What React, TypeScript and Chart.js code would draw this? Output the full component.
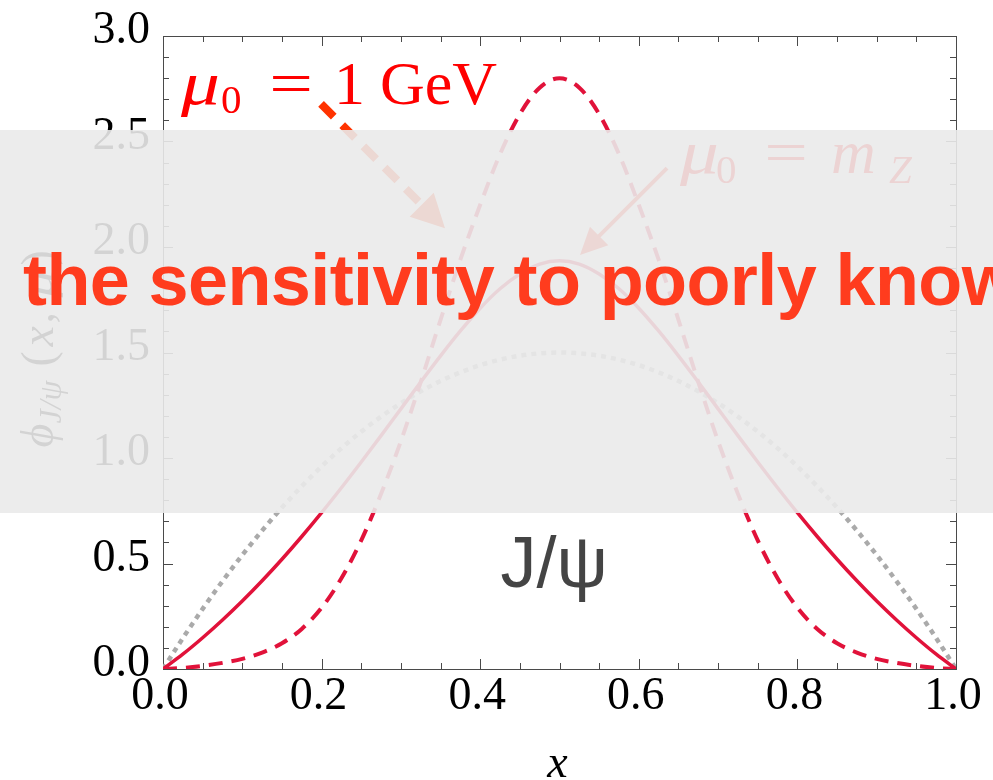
import React, { useEffect, useRef } from 'react';
import { Chart, registerables } from 'chart.js';

Chart.register(...registerables);

// ---- data ----
const xValues = [
  0, 0.025, 0.05, 0.075, 0.1, 0.125, 0.15, 0.175, 0.2, 0.225, 0.25, 0.275, 0.3, 0.325, 0.35, 0.375, 0.4,
  0.425, 0.45, 0.475, 0.5, 0.525, 0.55, 0.575, 0.6, 0.625, 0.65, 0.675, 0.7, 0.725, 0.75, 0.775, 0.8,
  0.825, 0.85, 0.875, 0.9, 0.925, 0.95, 0.975, 1,
];

// grey dotted curve (asymptotic)
const asymptoticValues = [
  0, 0.146, 0.285, 0.416, 0.54, 0.656, 0.765, 0.866, 0.96, 1.046, 1.125, 1.196, 1.26, 1.316, 1.365, 1.406,
  1.44, 1.466, 1.485, 1.496, 1.5, 1.496, 1.485, 1.466, 1.44, 1.406, 1.365, 1.316, 1.26, 1.196, 1.125, 1.046,
  0.96, 0.866, 0.765, 0.656, 0.54, 0.416, 0.285, 0.146, 0,
];

// solid red curve (mu0 = mZ)
const mzValues = [
  0, 0.07, 0.148, 0.232, 0.322, 0.418, 0.52, 0.628, 0.741, 0.859, 0.981, 1.106, 1.233, 1.36, 1.484, 1.602,
  1.71, 1.802, 1.872, 1.919, 1.935, 1.919, 1.872, 1.802, 1.71, 1.602, 1.484, 1.36, 1.233, 1.106, 0.981,
  0.859, 0.741, 0.628, 0.52, 0.418, 0.322, 0.232, 0.148, 0.07, 0,
];

// dashed red curve (mu0 = 1 GeV)
const oneGeVValues = [
  0, 0.005, 0.015, 0.029, 0.048, 0.078, 0.122, 0.19, 0.29, 0.43, 0.61, 0.83, 1.08, 1.36, 1.655, 1.94, 2.2,
  2.44, 2.63, 2.755, 2.8, 2.755, 2.63, 2.44, 2.2, 1.94, 1.655, 1.36, 1.08, 0.83, 0.61, 0.43, 0.29, 0.19,
  0.122, 0.078, 0.048, 0.029, 0.015, 0.005, 0,
];

const xTickValues = [0, 0.2, 0.4, 0.6, 0.8, 1.0];
const yTickValues = [0, 0.5, 1.0, 1.5, 2.0, 2.5, 3.0];

const bandText = 'the sensitivity to poorly known';

// annotation anchors (data coordinates)
const arrow1GeV = { from: [0.1993, 2.678], to: [0.3556, 2.089] };
const arrowMz = { from: [0.6356, 2.374], to: [0.5259, 1.962] };
const label1GeVAnchor = [0.0252, 2.678];
const labelMzAnchor = [0.6545, 2.351];
const jpsiAnchor = [0.4255, 0.3865];

const RED = '#e1123a';
const SERIF = '"Liberation Serif", "Times New Roman", serif';
const SANS = '"Liberation Sans", Arial, sans-serif';

function drawArrow(
  ctx: CanvasRenderingContext2D,
  x1: number, y1: number, x2: number, y2: number,
  w: number, headLen: number, headHalf: number, color: string, dash: number[]
) {
  const dx = x2 - x1, dy = y2 - y1;
  const L = Math.hypot(dx, dy);
  const ux = dx / L, uy = dy / L;
  const bx = x2 - ux * headLen, by = y2 - uy * headLen;
  ctx.save();
  ctx.strokeStyle = color;
  ctx.fillStyle = color;
  ctx.lineWidth = w;
  ctx.lineCap = 'butt';
  ctx.setLineDash(dash);
  ctx.beginPath();
  ctx.moveTo(x1, y1);
  ctx.lineTo(bx + ux * 2, by + uy * 2);
  ctx.stroke();
  ctx.setLineDash([]);
  ctx.beginPath();
  ctx.moveTo(x2, y2);
  ctx.lineTo(bx - uy * headHalf, by + ux * headHalf);
  ctx.lineTo(bx + uy * headHalf, by - ux * headHalf);
  ctx.closePath();
  ctx.fill();
  ctx.restore();
}

function txt(
  ctx: CanvasRenderingContext2D, s: string, x: number, y: number, font: string,
  align: CanvasTextAlign = 'left', sx = 1
) {
  ctx.save();
  ctx.font = font;
  ctx.textAlign = align;
  ctx.translate(x, y);
  ctx.scale(sx, 1);
  ctx.fillText(s, 0, 0);
  ctx.restore();
}

const decorPlugin = {
  id: 'decor',
  beforeDatasetsDraw(chart: any) {
    const { ctx, chartArea: a, scales } = chart;
    const xs = scales.x, ys = scales.y;
    ctx.save();
    ctx.strokeStyle = '#4a4a4a';
    ctx.lineWidth = 1;
    ctx.strokeRect(Math.round(a.left) + 0.5, Math.round(a.top) + 0.5, Math.round(a.right - a.left), Math.round(a.bottom - a.top));
    ctx.beginPath();
    for (let i = 0; i <= 20; i++) {
      const px = Math.round(xs.getPixelForValue(i * 0.05)) + 0.5;
      const len = i % 4 === 0 ? 10 : 6;
      ctx.moveTo(px, a.bottom);
      ctx.lineTo(px, a.bottom - len);
      ctx.moveTo(px, a.top);
      ctx.lineTo(px, a.top + len);
    }
    for (let i = 0; i <= 30; i++) {
      const py = Math.round(ys.getPixelForValue(i * 0.1)) + 0.5;
      const len = i % 5 === 0 ? 10 : 6;
      ctx.moveTo(a.left, py);
      ctx.lineTo(a.left + len, py);
      ctx.moveTo(a.right, py);
      ctx.lineTo(a.right - len, py);
    }
    ctx.stroke();
    ctx.restore();
  },
  afterDatasetsDraw(chart: any) {
    const { ctx, chartArea: a, scales } = chart;
    const xs = scales.x, ys = scales.y;
    const P = (p: number[]) => [xs.getPixelForValue(p[0]), ys.getPixelForValue(p[1])];

    // arrows
    const a1f = P(arrow1GeV.from), a1t = P(arrow1GeV.to);
    drawArrow(ctx, a1f[0], a1f[1], a1t[0], a1t[1], 8, 33, 17, '#ff3300', [18, 12]);
    const a2f = P(arrowMz.from), a2t = P(arrowMz.to);
    drawArrow(ctx, a2f[0], a2f[1], a2t[0], a2t[1], 4, 27, 13, '#ff2a1a', []);

    ctx.save();
    ctx.textBaseline = 'alphabetic';
    ctx.fillStyle = '#ff0000';
    // mu0 = 1 GeV
    const [l1x, l1y] = P(label1GeVAnchor);
    txt(ctx, 'μ', l1x - 2, l1y, `italic 62px ${SERIF}`, 'left', 1.25);
    txt(ctx, '0', l1x + 38, l1y + 9, `41px ${SERIF}`);
    txt(ctx, '=', l1x + 108, l1y, `62px ${SERIF}`, 'center', 1.25);
    txt(ctx, '1', l1x + 151, l1y, `62px ${SERIF}`);
    txt(ctx, 'GeV', l1x + 197, l1y, `62px ${SERIF}`);
    // mu0 = mZ
    const [l2x, l2y] = P(labelMzAnchor);
    txt(ctx, 'μ', l2x - 2, l2y, `italic 62px ${SERIF}`, 'left', 1.25);
    txt(ctx, '0', l2x + 34, l2y + 10, `41px ${SERIF}`);
    txt(ctx, '=', l2x + 104, l2y, `62px ${SERIF}`, 'center', 1.25);
    txt(ctx, 'm', l2x + 149, l2y, `italic 62px ${SERIF}`);
    txt(ctx, 'Z', l2x + 207, l2y + 10, `italic 41px ${SERIF}`);

    // J/psi
    ctx.fillStyle = '#444';
    const [jx, jy] = P(jpsiAnchor);
    txt(ctx, 'J/ψ', jx, jy, `72px ${SANS}`);

    // axis titles
    ctx.fillStyle = '#000';
    txt(ctx, 'x', (a.left + a.right) / 2 - 2, a.bottom + 108, `italic 46px ${SERIF}`, 'center');
    ctx.save();
    ctx.translate(a.left - 110, (a.top + a.bottom) / 2 + 95);
    ctx.rotate(-Math.PI / 2);
    txt(ctx, 'ϕ', 0, 0, `italic 46px ${SERIF}`);
    txt(ctx, 'J/ψ', 24, 8, `italic 32px ${SERIF}`);
    txt(ctx, '(', 81, 0, `46px ${SERIF}`);
    txt(ctx, 'x', 101, 0, `italic 46px ${SERIF}`);
    txt(ctx, ',', 124, 0, `46px ${SERIF}`);
    txt(ctx, 'μ', 150, 0, `italic 46px ${SERIF}`, 'left', 1.2);
    txt(ctx, ')', 182, 0, `46px ${SERIF}`);
    ctx.restore();
    ctx.restore();
  },
};

export default function App() {
  const ref = useRef<HTMLCanvasElement>(null);

  useEffect(() => {
    if (!ref.current) return;
    const pts = (vals: number[]) => xValues.map((x, i) => ({ x, y: vals[i] }));
    const chart = new Chart(ref.current, {
      type: 'line',
      data: {
        datasets: [
          {
            label: 'μ0 = 1 GeV',
            data: pts(oneGeVValues),
            borderColor: RED,
            borderWidth: 4,
            borderDash: [14, 9],
            pointRadius: 0,
            fill: false,
            cubicInterpolationMode: 'monotone',
          },
          {
            label: 'μ0 = mZ',
            data: pts(mzValues),
            borderColor: RED,
            borderWidth: 3.5,
            pointRadius: 0,
            fill: false,
            cubicInterpolationMode: 'monotone',
          },
          {
            label: 'asymptotic',
            data: pts(asymptoticValues),
            borderColor: '#aaaaaa',
            borderWidth: 4.5,
            borderDash: [5, 5],
            pointRadius: 0,
            fill: false,
            cubicInterpolationMode: 'monotone',
          },
        ],
      },
      options: {
        animation: false,
        responsive: false,
        devicePixelRatio: 1,
        layout: { padding: { top: 36, right: 37, left: 0, bottom: 0 } },
        plugins: { legend: { display: false }, tooltip: { enabled: false } },
        scales: {
          x: {
            type: 'linear',
            min: 0,
            max: 1,
            afterBuildTicks: (s: any) => {
              s.ticks = xTickValues.map((v) => ({ value: v }));
            },
            afterFit: (s: any) => {
              s.height = 111;
            },
            ticks: {
              callback: (v: any) => Number(v).toFixed(1),
              font: { family: SERIF, size: 46 },
              color: '#000',
              padding: 0.5,
              labelOffset: -3,
              maxRotation: 0,
              autoSkip: false,
            },
            grid: { display: false, drawTicks: false },
            border: { display: false },
          },
          y: {
            type: 'linear',
            min: 0,
            max: 3,
            afterBuildTicks: (s: any) => {
              s.ticks = yTickValues.map((v) => ({ value: v }));
            },
            afterFit: (s: any) => {
              s.width = 163;
            },
            ticks: {
              callback: (v: any) => Number(v).toFixed(1),
              font: { family: SERIF, size: 46, lineHeight: 0.8 },
              color: '#000',
              padding: 13,
              labelOffset: -5,
              autoSkip: false,
            },
            grid: { display: false, drawTicks: false },
            border: { display: false },
          },
        },
      },
      plugins: [decorPlugin],
    } as any);
    return () => chart.destroy();
  }, []);

  return (
    <div
      style={{
        position: 'absolute',
        left: 0,
        top: 0,
        width: 993,
        height: 780,
        overflow: 'hidden',
        background: '#fff',
      }}
    >
      <canvas ref={ref} width={993} height={780} style={{ display: 'block', width: 993, height: 780 }} />
      <div
        style={{
          position: 'absolute',
          left: 0,
          top: 130,
          width: 993,
          height: 383,
          background: 'rgba(234,234,234,0.9)',
        }}
      />
      <div
        style={{
          position: 'absolute',
          left: 23,
          top: 244,
          fontFamily: SANS,
          fontWeight: 'bold',
          fontSize: 72,
          lineHeight: '72px',
          letterSpacing: '-0.6px',
          color: '#ff3c1e',
          whiteSpace: 'nowrap',
        }}
      >
        {bandText}
      </div>
    </div>
  );
}
